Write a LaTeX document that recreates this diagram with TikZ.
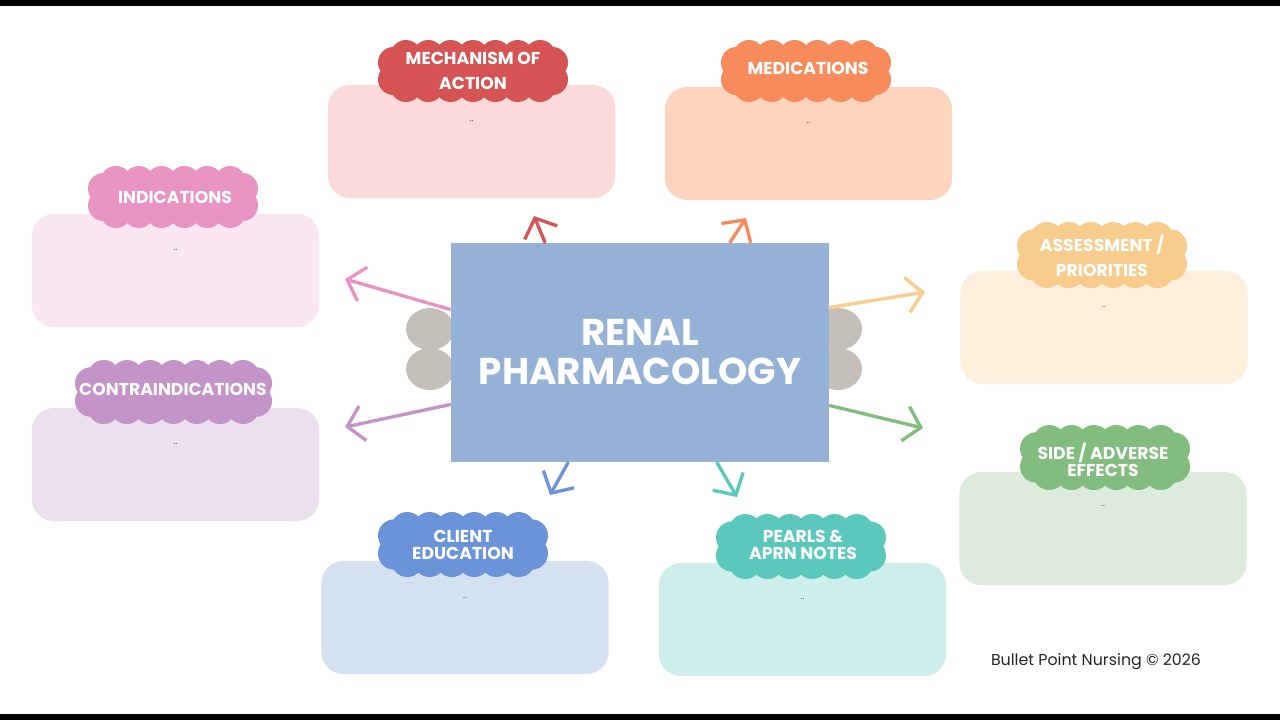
\documentclass[tikz,border=0pt]{standalone}
\usepackage{fontspec}
\setmainfont{Poppins}
\usepackage{tikz}
\usetikzlibrary{arrows.meta,positioning}
\definecolor{rp-center}{HTML}{95B1D6}
\definecolor{rp-grey}{HTML}{C4BEB9}
\definecolor{rp-mech}{HTML}{D65353}
\definecolor{rp-mechbg}{HTML}{FDDADA}
\definecolor{rp-meds}{HTML}{F78B5B}
\definecolor{rp-medsbg}{HTML}{FED4BF}
\definecolor{rp-ind}{HTML}{E893C2}
\definecolor{rp-indbg}{HTML}{FAE7F2}
\definecolor{rp-contra}{HTML}{C493C8}
\definecolor{rp-contrabg}{HTML}{ECE0EE}
\definecolor{rp-assess}{HTML}{F8CC8C}
\definecolor{rp-assessbg}{HTML}{FEEEDC}
\definecolor{rp-side}{HTML}{82BD7F}
\definecolor{rp-sidebg}{HTML}{DCEBDB}
\definecolor{rp-client}{HTML}{6A93D8}
\definecolor{rp-clientbg}{HTML}{D5E1F1}
\definecolor{rp-pearl}{HTML}{5AC8BA}
\definecolor{rp-pearlbg}{HTML}{CDEEEA}
% scalloped label cloud: colour, x0, y0, x1, y1, bumps
\newcommand{\puffcloud}[6]{%
  \pgfmathsetmacro\puffR{(#5-#3)/4}%
  \pgfmathsetmacro\puffA{#2+1.8*\puffR}%
  \pgfmathsetmacro\puffS{(#4-#2-3.6*\puffR)/(#6-1)}%
  \pgfmathtruncatemacro\puffN{#6-1}%
  \fill[#1] ({#2+\puffR},{#3+\puffR}) rectangle ({#4-\puffR},{#5-\puffR});
  \foreach \k in {0,...,\puffN}{
    \fill[#1] ({\puffA+\k*\puffS},{#3+\puffR}) circle (\puffR);
    \fill[#1] ({\puffA+\k*\puffS},{#5-\puffR}) circle (\puffR);
  }
  \foreach \s in {-0.55,0.55}{
    \fill[#1] ({#2+\puffR},{(#3+#5)/2+\s*\puffR}) circle (\puffR);
    \fill[#1] ({#4-\puffR},{(#3+#5)/2+\s*\puffR}) circle (\puffR);
  }
}
\tikzset{
  panel/.style={fill=#1, rounded corners=0.22cm, minimum width=2.87cm, minimum height=1.13cm, inner sep=0pt},
  head/.style={text=white, align=center, inner sep=0pt, font=\bfseries\fontsize{4.9}{7.1}\selectfont},
  headtight/.style={head, font=\bfseries\fontsize{4.9}{4.8}\selectfont},
  note/.style={inner sep=0pt, text=black!70, font=\fontsize{2.5}{3}\selectfont},
  arr/.style={draw=#1, line width=0.95pt, line cap=round, -{Straight Barb[length=4.5pt, width=10pt]}}
}
\begin{document}
\begin{tikzpicture}[x=0.01cm, y=-0.01cm]
    \useasboundingbox (0,0) rectangle (1280,720);
    \fill[white] (0,0) rectangle (1280,720);
    \fill[black] (0,0) rectangle (1280,6);
    \fill[black] (0,714) rectangle (1280,720);

    % grey lobes behind the title
    \fill[rp-grey] (430,329) ellipse [x radius=24, y radius=21];
    \fill[rp-grey] (430,369) ellipse [x radius=24, y radius=21];
    \fill[rp-grey] (838,329) ellipse [x radius=24, y radius=21];
    \fill[rp-grey] (838,369) ellipse [x radius=24, y radius=21];

    \node[fill=rp-center, minimum width=3.78cm, minimum height=2.19cm, inner sep=0pt,
          text=white, align=center, font=\bfseries\fontsize{10.6}{11.1}\selectfont]
          (title) at (640,352.5) {RENAL\\PHARMACOLOGY};

    % panels
    \node[panel=rp-mechbg] (mechBox) at (471.5,141.5) {};
    \node[panel=rp-medsbg] (medsBox) at (808.5,143.5) {};
    \node[panel=rp-indbg] (indBox) at (175.5,270.5) {};
    \node[panel=rp-contrabg] (contraBox) at (175.5,464.5) {};
    \node[panel=rp-assessbg] (assessBox) at (1104,327.5) {};
    \node[panel=rp-sidebg] (sideBox) at (1103,528.5) {};
    \node[panel=rp-clientbg] (clientBox) at (465,617.5) {};
    \node[panel=rp-pearlbg] (pearlBox) at (802.5,619.5) {};

    \node[note, below=0.34cm of mechBox.north] (mechNote) {..};
    \node[note, below=0.34cm of medsBox.north] (medsNote) {..};
    \node[note, below=0.34cm of indBox.north] (indNote) {..};
    \node[note, below=0.34cm of contraBox.north] (contraNote) {..};
    \node[note, below=0.34cm of assessBox.north] (assessNote) {..};
    \node[note, below=0.32cm of sideBox.north] (sideNote) {..};
    \node[note, below=0.35cm of clientBox.north] (clientNote) {..};
    \node[note, below=0.34cm of pearlBox.north] (pearlNote) {..};

    % label clouds
    \puffcloud{rp-mech}{378}{40}{568}{102}{7}
    \puffcloud{rp-meds}{721}{40}{891}{102}{6}
    \puffcloud{rp-ind}{88}{166}{258}{228}{6}
    \puffcloud{rp-contra}{75}{360}{272}{424}{7}
    \puffcloud{rp-assess}{1017}{222}{1187}{288}{6}
    \puffcloud{rp-side}{1020}{425}{1190}{490}{6}
    \puffcloud{rp-client}{378}{512}{548}{577}{6}
    \puffcloud{rp-pearl}{716}{514}{886}{579}{6}

    \node[head] (mechHead) at (473,71) {MECHANISM OF\\ACTION};
    \node[head] (medsHead) at (808,68) {MEDICATIONS};
    \node[head] (indHead) at (175,197) {INDICATIONS};
    \node[head] (contraHead) at (173,389) {CONTRAINDICATIONS};
    \node[head] (assessHead) at (1102,256) {ASSESSMENT /\\PRIORITIES};
    \node[headtight] (sideHead) at (1103,460) {SIDE / ADVERSE\\EFFECTS};
    \node[headtight] (clientHead) at (463,545) {CLIENT\\EDUCATION};
    \node[headtight] (pearlHead) at (803,545) {PEARLS \&\\APRN NOTES};

    % arrows out of the title
    \coordinate (mechTip) at (534,216);
    \coordinate (medsTip) at (746,218);
    \coordinate (indTip) at (345,279);
    \coordinate (contraTip) at (345,427);
    \coordinate (assessTip) at (925,292);
    \coordinate (sideTip) at (923,428);
    \coordinate (clientTip) at (550,495);
    \coordinate (pearlTip) at (737,497);
    \draw[arr=rp-mech] ([xshift=-0.95cm]title.north) -- (mechTip);
    \draw[arr=rp-meds] ([xshift=0.9cm]title.north) -- (medsTip);
    \draw[arr=rp-ind] ([yshift=0.43cm]title.west) -- (indTip);
    \draw[arr=rp-contra] ([yshift=-0.52cm]title.west) -- (contraTip);
    \draw[arr=rp-assess] ([yshift=0.45cm]title.east) -- (assessTip);
    \draw[arr=rp-side] ([yshift=-0.53cm]title.east) -- (sideTip);
    \draw[arr=rp-client] ([xshift=-0.72cm]title.south) -- (clientTip);
    \draw[arr=rp-pearl] ([xshift=0.77cm]title.south) -- (pearlTip);

    \node[font=\fontsize{4.5}{5.5}\selectfont, text=black!85, inner sep=0pt] (footer) at (1096,662) {Bullet Point Nursing © 2026};
\end{tikzpicture}
\end{document}
